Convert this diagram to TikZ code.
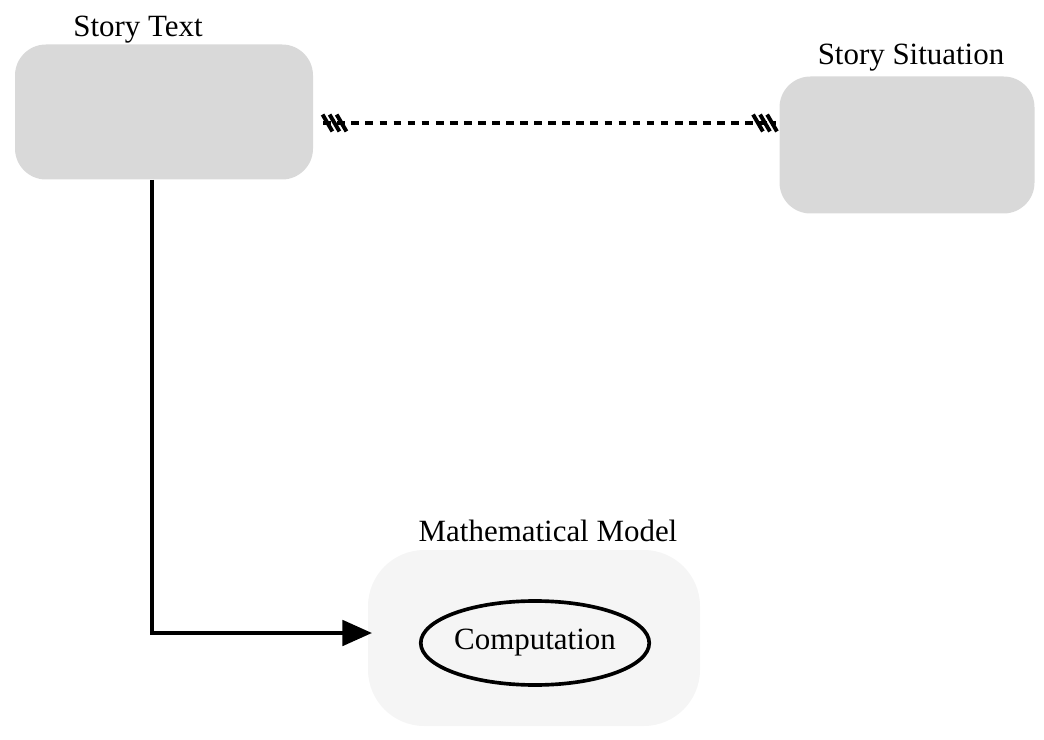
\documentclass[tikz,border=0pt]{standalone}
\usepackage{fontspec}
\setmainfont{Liberation Serif}
\usepackage{tikz}
\usetikzlibrary{arrows.meta,decorations.markings,shapes.geometric}
\tikzstyle{story} = [rectangle, rounded corners=22pt, fill=gray!30, inner sep=0pt]
\tikzstyle{model} = [rectangle, rounded corners=40pt, fill=gray!8, inner sep=0pt]
\tikzstyle{lbl} = [font=\fontsize{22}{26}\selectfont]
\tikzstyle{ticks} = [postaction={decorate}, decoration={markings,
  mark=at position 8pt with {\foreach \d in {-5pt,0pt,5pt} \draw[solid,line width=2.8pt] (\d-3.5pt,6pt) -- (\d+3.5pt,-6pt);},
  mark=at position -8pt with {\foreach \d in {-5pt,0pt,5pt} \draw[solid,line width=2.8pt] (\d-3.5pt,6pt) -- (\d+3.5pt,-6pt);}}]

\begin{document}
\begin{tikzpicture}[x=0.025cm,y=-0.025cm,semithick]
  \useasboundingbox (0,0) rectangle (1044,740);
  \node[story, minimum width=298*0.025cm, minimum height=135*0.025cm] (Story_Text) at (164,112) {};
  \node[lbl] (Story_Text_lbl) at (138,30) {Story Text};
  \node[story, minimum width=255*0.025cm, minimum height=137*0.025cm] (Story_Sit) at (907,145) {};
  \node[lbl] (Story_Sit_lbl) at (911,58) {Story Situation};
  \node[model, minimum width=332*0.025cm, minimum height=176*0.025cm] (Math_Model) at (534,638) {};
  \node[lbl] (Math_Model_lbl) at (548,531) {Mathematical Model};
  \node[lbl, ellipse, draw, line width=2.6pt, minimum width=223*0.025cm, minimum height=84*0.025cm, inner sep=0pt] (Comp) at (535,643) {Computation};
  \coordinate (Arrow_end) at (372,633);

  \draw[line width=2.6pt, dash pattern=on 5.5pt off 4.5pt, ticks] ([xshift=7pt]Story_Text.east |- 0,123) -- ([xshift=-2pt]Story_Sit.west |- 0,123);
  \draw[line width=2.8pt, -{Triangle[length=21pt,width=18pt]}] (Story_Text.south -| 152,0) -- (152,633) -- (Arrow_end);
\end{tikzpicture}
\end{document}
